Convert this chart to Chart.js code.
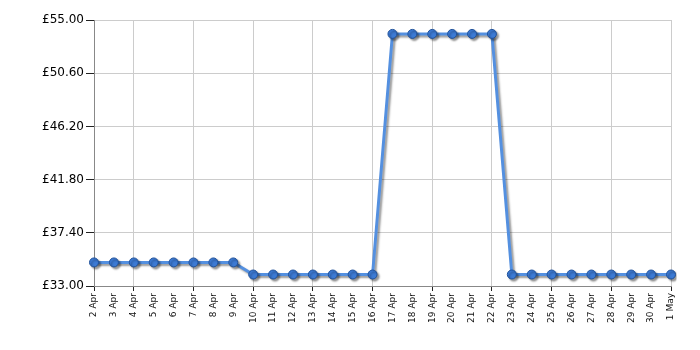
<!DOCTYPE html>
<html lang="en">
<head>
    <meta charset="UTF-8">
    <title>Price history</title>
    <script src="https://cdn.jsdelivr.net/npm/chart.js"></script>
    <style>
        body {
            margin: 0;
            background: #fff;
        }
        .container {
            width: 700px;
            height: 350px;
        }
    </style>
</head>
<body>
    <div class="container">
        <canvas id="priceChart"></canvas>
    </div>

    <script>
        const days = [
            "2 Apr", "3 Apr", "4 Apr", "5 Apr", "6 Apr", "7 Apr", "8 Apr", "9 Apr",
            "10 Apr", "11 Apr", "12 Apr", "13 Apr", "14 Apr", "15 Apr", "16 Apr",
            "17 Apr", "18 Apr", "19 Apr", "20 Apr", "21 Apr", "22 Apr",
            "23 Apr", "24 Apr", "25 Apr", "26 Apr", "27 Apr", "28 Apr", "29 Apr", "30 Apr", "1 May"
        ];
        const prices = [
            34.95, 34.95, 34.95, 34.95, 34.95, 34.95, 34.95, 34.95,
            33.95, 33.95, 33.95, 33.95, 33.95, 33.95, 33.95,
            53.85, 53.85, 53.85, 53.85, 53.85, 53.85,
            33.95, 33.95, 33.95, 33.95, 33.95, 33.95, 33.95, 33.95, 33.95
        ];
        const yTicks = [33.00, 37.40, 41.80, 46.20, 50.60, 55.00];
        // vertical grid lines only at these labels
        const gridDays = ["2 Apr", "4 Apr", "7 Apr", "10 Apr", "13 Apr", "16 Apr", "19 Apr", "22 Apr", "25 Apr", "28 Apr", "1 May"];

        // grey drop shadow under the line and points
        const shadowPlugin = {
            id: 'shadow',
            beforeDatasetDraw(chart) {
                const c = chart.ctx;
                c.save();
                c.shadowColor = 'rgba(0,0,0,0.4)';
                c.shadowOffsetX = 2;
                c.shadowOffsetY = 2;
                c.shadowBlur = 2;
            },
            afterDatasetDraw(chart) {
                chart.ctx.restore();
            }
        };

        const ctx = document.getElementById('priceChart').getContext('2d');
        new Chart(ctx, {
            type: 'line',
            data: {
                labels: days,
                datasets: [{
                    data: prices,
                    borderColor: '#5490e0',
                    borderWidth: 3,
                    backgroundColor: '#3c7ad4',
                    pointBackgroundColor: '#3c7ad4',
                    pointBorderColor: '#21529a',
                    pointBorderWidth: 1,
                    pointRadius: 4.5,
                    tension: 0
                }]
            },
            options: {
                responsive: true,
                maintainAspectRatio: false,
                animation: false,
                layout: { padding: { top: 20, right: 29, left: 0, bottom: 0 } },
                plugins: {
                    legend: { display: false },
                    tooltip: { enabled: false }
                },
                scales: {
                    x: {
                        offset: false,
                        afterFit: s => { s.height = 64; },
                        grid: {
                            color: c => gridDays.includes(days[c.index]) ? '#cccccc' : 'rgba(0,0,0,0)',
                            tickColor: c => gridDays.includes(days[c.index]) ? '#222' : 'rgba(0,0,0,0)',
                            tickLength: 5
                        },
                        border: { color: '#888', width: 1 },
                        ticks: {
                            autoSkip: false,
                            maxRotation: 90,
                            minRotation: 90,
                            color: '#111',
                            padding: 2,
                            font: { family: 'DejaVu Sans', size: 9 }
                        }
                    },
                    y: {
                        min: 33,
                        max: 55,
                        afterFit: s => { s.width = 94; },
                        afterBuildTicks: s => { s.ticks = yTicks.map(v => ({ value: v })); },
                        grid: {
                            color: '#cccccc',
                            tickColor: '#222',
                            tickLength: 8
                        },
                        border: { color: '#888', width: 1 },
                        ticks: {
                            color: '#000',
                            padding: 2,
                            font: { family: 'DejaVu Sans', size: 12 },
                            callback: v => '£' + Number(v).toFixed(2)
                        }
                    }
                }
            },
            plugins: [shadowPlugin]
        });
    </script>
</body>
</html>
